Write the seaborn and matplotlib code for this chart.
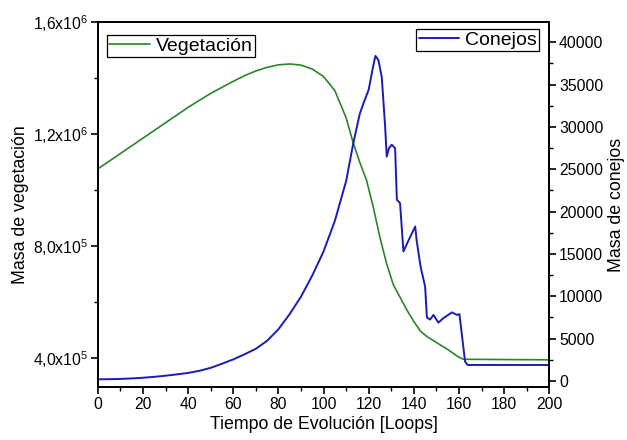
import numpy as np
import pandas as pd
import matplotlib
matplotlib.use("Agg")
import matplotlib.pyplot as plt
import seaborn as sns
from matplotlib.ticker import MultipleLocator

# ---- data ----
veg_x = [0, 10, 20, 30, 40, 50, 60, 65, 70, 75, 80, 85, 90, 95, 100, 105, 110, 113, 116,
         119, 122, 125, 128, 131, 134, 137, 140, 143, 146, 150, 155, 160, 162, 200]
veg_y = [1.075e6, 1.130e6, 1.185e6, 1.240e6, 1.295e6, 1.345e6, 1.388e6, 1.408e6, 1.425e6,
         1.438e6, 1.447e6, 1.450e6, 1.446e6, 1.432e6, 1.405e6, 1.355e6, 1.258e6, 1.172e6,
         1.100e6, 1.036e6, 0.940e6, 0.830e6, 0.735e6, 0.660e6, 0.615e6, 0.570e6, 0.530e6,
         0.495e6, 0.475e6, 0.455e6, 0.430e6, 0.402e6, 0.395e6, 0.393e6]

con_x = [0, 5, 10, 15, 20, 25, 30, 35, 40, 45, 50, 55, 60, 65, 70, 75, 80, 85, 90, 95,
         100, 105, 110, 113.2, 116, 117.7, 120, 122, 123, 124.3, 125.8, 127.3, 128, 129,
         130.2, 131.7, 132.5, 133.9, 135.4, 138, 140.6, 141.3, 143, 145, 145.8, 147.2,
         148.7, 150.9, 153, 156.9, 159.1, 160.2, 162.7, 163.8, 200]
con_y = [200, 210, 240, 300, 380, 490, 620, 780, 950, 1200, 1550, 2030, 2550, 3150, 3800,
         4750, 6100, 7900, 9950, 12450, 15300, 18900, 23600, 28100, 31500, 32800, 34400,
         37200, 38400, 37900, 35900, 30000, 26500, 27500, 27900, 27500, 21400, 21000, 15300,
         16800, 18240, 16500, 13500, 11150, 7500, 7250, 7800, 6890, 7400, 8100, 7800, 7900,
         2300, 1890, 1890]

x_ticks = [0, 20, 40, 60, 80, 100, 120, 140, 160, 180, 200]
left_ticks = [4.0e5, 8.0e5, 1.2e6, 1.6e6]
left_labels = ['4,0x10$^5$', '8,0x10$^5$', '1,2x10$^6$', '1,6x10$^6$']
right_ticks = [0, 5000, 10000, 15000, 20000, 25000, 30000, 35000, 40000]
right_labels = ['0', '5000', '10000', '15000', '20000', '25000', '30000', '35000', '40000']

GREEN = '#2b852b'
BLUE = '#1c1cb4'

sns.set_style('ticks')
plt.rcParams['font.family'] = ['Liberation Sans', 'DejaVu Sans']
plt.rcParams['mathtext.fontset'] = 'custom'
plt.rcParams['mathtext.rm'] = 'Liberation Sans'
plt.rcParams['mathtext.it'] = 'Liberation Sans'
plt.rcParams['axes.edgecolor'] = 'black'
plt.rcParams['axes.labelcolor'] = 'black'
plt.rcParams['text.color'] = 'black'
plt.rcParams['xtick.color'] = 'black'
plt.rcParams['ytick.color'] = 'black'
plt.rcParams['axes.linewidth'] = 1.3

fig = plt.figure(figsize=(6.27, 4.40), dpi=100)
ax = fig.add_axes([0.156, 0.1205, 0.720, 0.8295])
ax2 = ax.twinx()

veg_df = pd.DataFrame({'t': veg_x, 'v': veg_y})
con_df = pd.DataFrame({'t': con_x, 'c': con_y})

sns.lineplot(data=veg_df, x='t', y='v', ax=ax, color=GREEN, linewidth=1.2,
             label='Vegetación', legend=False)
sns.lineplot(data=con_df, x='t', y='c', ax=ax2, color=BLUE, linewidth=1.4,
             label='Conejos', legend=False)

ax.set_xlim(0, 200)
ax.set_ylim(2.96e5, 1.6e6)
ax2.set_ylim(-710, 42400)

ax.set_xticks(x_ticks)
ax.set_xticklabels([str(v) for v in x_ticks])
ax.xaxis.set_minor_locator(MultipleLocator(10))
ax.set_yticks(left_ticks)
ax.set_yticklabels(left_labels)
ax.yaxis.set_minor_locator(MultipleLocator(2e5))
ax2.set_yticks(right_ticks)
ax2.set_yticklabels(right_labels)
ax2.yaxis.set_minor_locator(MultipleLocator(2500))

for a in (ax, ax2):
    a.tick_params(axis='both', which='major', direction='out', length=5, width=1.2,
                  labelsize=11.3, colors='black', pad=2)
    a.tick_params(axis='both', which='minor', direction='out', length=3, width=1.0)
    for s in a.spines.values():
        s.set_visible(True)
        s.set_color('black')
        s.set_linewidth(1.3)
ax.tick_params(axis='y', which='both', left=True, right=False)
ax2.tick_params(axis='y', which='both', right=True, left=False)

ax.set_xlabel('Tiempo de Evolución [Loops]', fontsize=12.8, labelpad=3)
ax.set_ylabel('Masa de vegetación', fontsize=12.8, labelpad=3)
ax2.set_ylabel('Masa de conejos', fontsize=12.8, labelpad=3)

leg1 = ax.legend(loc='upper left', bbox_to_anchor=(0.02, 0.964), fontsize=14,
                 frameon=True, fancybox=False, edgecolor='black', framealpha=1,
                 handlelength=2.1, handletextpad=0.3, borderpad=0.12,
                 borderaxespad=0)
leg1.get_frame().set_linewidth(0.9)
leg2 = ax2.legend(loc='upper right', bbox_to_anchor=(0.978, 0.981), fontsize=14,
                  frameon=True, fancybox=False, edgecolor='black', framealpha=1,
                  handlelength=2.1, handletextpad=0.3, borderpad=0.12,
                  borderaxespad=0)
leg2.get_frame().set_linewidth(0.9)

fig.savefig('out.png', dpi=100)
